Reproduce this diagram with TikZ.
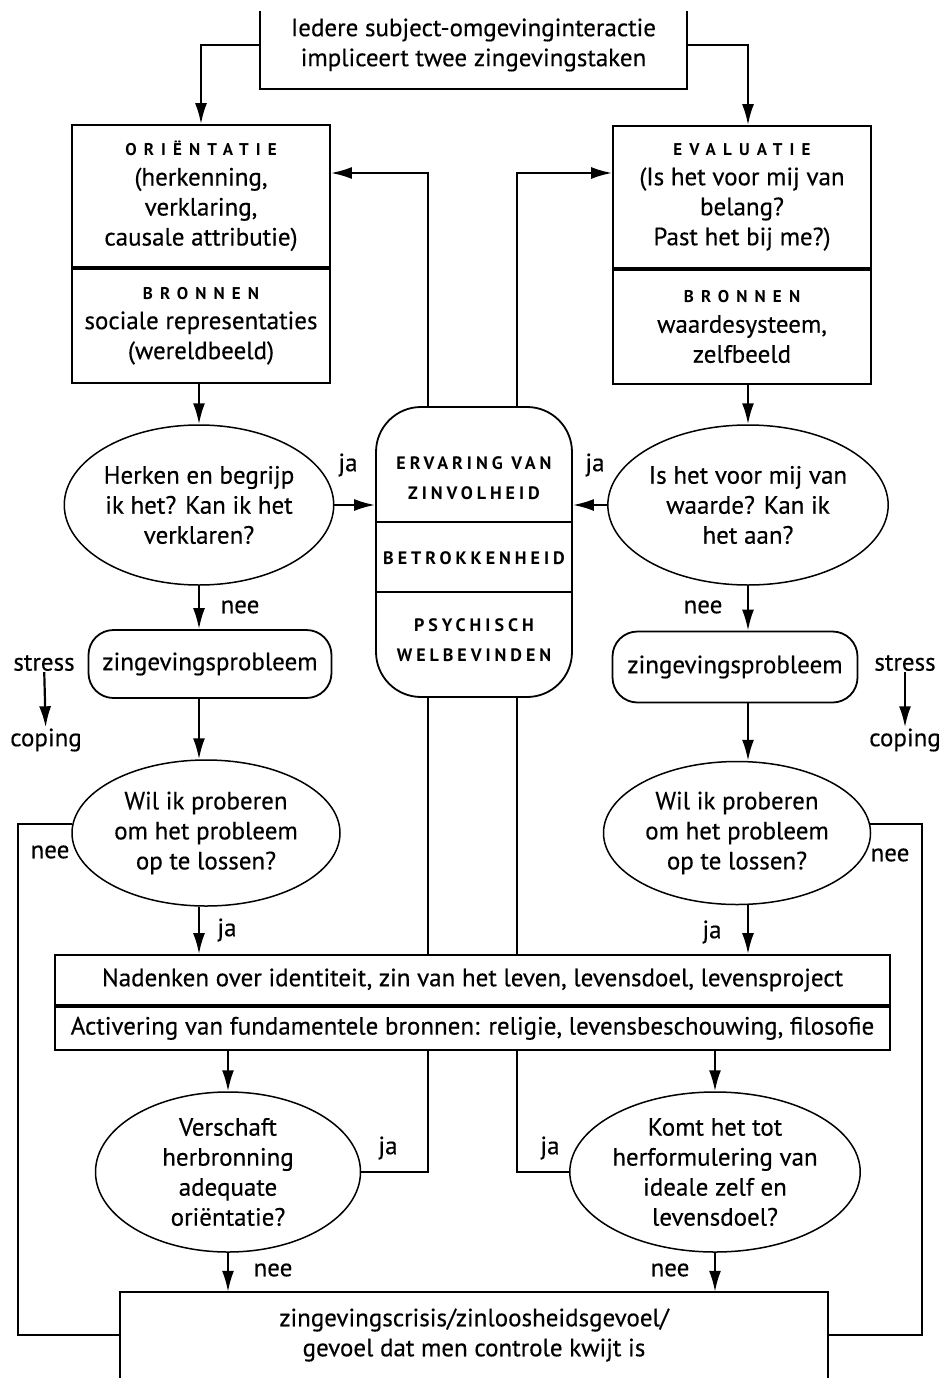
\documentclass[tikz,border=0pt]{standalone}
\usepackage{fontspec}
\setmainfont{PT Sans}[FakeBold=0.4]
\newfontfamily\spacedcaps[LetterSpace=42]{PT Sans}
\newfontfamily\tightcaps[LetterSpace=22]{PT Sans}
\usetikzlibrary{arrows.meta,shapes.geometric,positioning}
\newcommand{\kop}[1]{{\fontsize{17}{19}\spacedcaps\bfseries #1}}
\newcommand{\midkop}[1]{{\fontsize{18}{20}\tightcaps\bfseries #1}}

\begin{document}
\begin{tikzpicture}[x=1pt,y=-1pt,
    txt/.style={font=\fontsize{25}{30}\selectfont, align=center},
    box/.style={txt, draw, line width=1.8pt, inner sep=0pt},
    vraag/.style={txt, ellipse, draw, line width=1.5pt, inner sep=0pt},
    rand/.style={line width=1.8pt},
    lijn/.style={line width=2.2pt},
    pijl/.style={line width=2.2pt, -{Latex[length=21pt,width=12pt]}},
    lbl/.style={font=\fontsize{25}{28}\selectfont, inner sep=1pt}]
  \useasboundingbox (0,0) rectangle (945,1378);

  % columns for the loops
  \coordinate (lx) at (428,173);
  \coordinate (rx) at (517,173);
  \coordinate (lusL) at (18,0);
  \coordinate (lusR) at (922,0);

  % top
  \node[txt, minimum width=427pt, minimum height=88pt, inner sep=0pt] (taak) at (473.5,45)
    {Iedere subject-omgevinginteractie\\impliceert twee zingevingstaken};
  \draw[rand] ([yshift=-10pt]taak.north west) -- (taak.south west) -- (taak.south east) -- ([yshift=-10pt]taak.north east);

  % two tasks
  \node[box, minimum width=258pt, minimum height=142pt] (orient) at (201,196)
    {\kop{ORIËNTATIE}\\(herkenning,\\verklaring,\\causale attributie)};
  \node[box, minimum width=258pt, minimum height=114pt, below=0pt of orient] (bronL)
    {\kop{BRONNEN}\\sociale representaties\\(wereldbeeld)};
  \node[box, minimum width=258pt, minimum height=142pt] (eval) at (742,197)
    {\kop{EVALUATIE}\\(Is het voor mij van\\belang?\\Past het bij me?)};
  \node[box, minimum width=258pt, minimum height=114pt, below=0pt of eval] (bronR)
    {\kop{BRONNEN}\\waardesysteem,\\zelfbeeld};

  % centre
  \node[draw, rand, rounded corners=45pt, minimum width=196pt, minimum height=290pt] (zin) at (474,552) {};
  \draw[rand] (376,522) -- (572,522);
  \draw[rand] (376,592) -- (572,592);
  \node[txt] (ervaring) at (474,478) {\midkop{ERVARING VAN}\\\midkop{ZINVOLHEID}};
  \node[txt] (betrok) at (474,558) {\midkop{BETROKKENHEID}};
  \node[txt] (welbev) at (474,640) {\midkop{PSYCHISCH}\\\midkop{WELBEVINDEN}};

  % first questions
  \node[vraag, minimum width=266pt, minimum height=160pt] (herken) at (199,505)
    {Herken en begrijp\\ik het? Kan ik het\\verklaren?};
  \node[vraag, minimum width=270pt, minimum height=160pt] (waarde) at (748,505)
    {Is het voor mij van\\waarde? Kan ik\\het aan?};
  \node[box, rounded corners=25pt, minimum width=243pt, minimum height=68pt] (zingL) at (210,664) {zingevingsprobleem};
  \node[box, rounded corners=25pt, minimum width=245pt, minimum height=71pt] (zingR) at (735,667) {zingevingsprobleem};
  \node[lbl] (stressL) at (44,663) {stress};
  \node[lbl] (copingL) at (46,740) {coping};
  \node[lbl] (stressR) at (905,663) {stress};
  \node[lbl] (copingR) at (905,740) {coping};
  \node[vraag, minimum width=268pt, minimum height=146pt] (wilL) at (206,833)
    {Wil ik proberen\\om het probleem\\op te lossen?};
  \node[vraag, minimum width=267pt, minimum height=143pt] (wilR) at (737,833)
    {Wil ik proberen\\om het probleem\\op te lossen?};

  % reflection
  \node[box, minimum width=835pt, minimum height=50pt] (naden) at (472.5,980)
    {Nadenken over identiteit, zin van het leven, levensdoel, levensproject};
  \node[box, minimum width=835pt, minimum height=43pt, below=0pt of naden] (activ)
    {Activering van fundamentele bronnen: religie, levensbeschouwing, filosofie};
  \node[vraag, minimum width=265pt, minimum height=160pt] (versch) at (228,1172)
    {Verschaft\\herbronning\\adequate\\oriëntatie?};
  \node[vraag, minimum width=266pt, minimum height=160pt] (komt) at (715,1172)
    {Komt het tot\\herformulering van\\ideale zelf en\\levensdoel?};
  \node[txt, minimum width=708pt, minimum height=86pt, inner sep=0pt] (crisis) at (474,1335)
    {zingevingscrisis/zinloosheidsgevoel/\\gevoel dat men controle kwijt is};
  \draw[rand] (crisis.south west) -- (crisis.north west) -- (crisis.north east) -- (crisis.south east);

  % labels
  \node[lbl] (jaA) at (348,465) {ja};
  \node[lbl] (jaB) at (595,465) {ja};
  \node[lbl] (neeA) at (240,607) {nee};
  \node[lbl] (neeB) at (703,607) {nee};
  \node[lbl] (neeC) at (50,852) {nee};
  \node[lbl] (neeD) at (890,855) {nee};
  \node[lbl] (jaC) at (227,930) {ja};
  \node[lbl] (jaD) at (712,932) {ja};
  \node[lbl] (jaE) at (388,1148) {ja};
  \node[lbl] (jaF) at (550,1148) {ja};
  \node[lbl] (neeE) at (273,1270) {nee};
  \node[lbl] (neeF) at (670,1270) {nee};

  % arrows
  \draw[pijl] (taak.west) -| (orient.north);
  \draw[pijl] (taak.east) -| (eval.north -| waarde);
  \draw[pijl] (bronL.south -| herken) -- (herken.north);
  \draw[pijl] (bronR.south -| waarde) -- (waarde.north);
  \draw[pijl] (herken.east) -- (herken.east -| zin.west);
  \draw[pijl] (waarde.west) -- (waarde.west -| zin.east);
  \draw[pijl] (herken.south) -- (herken.south |- zingL.north);
  \draw[pijl] (waarde.south) -- (waarde.south |- zingR.north);
  \draw[pijl] (stressL) -- (copingL);
  \draw[pijl] (stressR) -- (copingR);
  \draw[pijl] (zingL.south -| herken) -- (wilL.north -| herken);
  \draw[pijl] (zingR.south -| waarde) -- (wilR.north -| waarde);
  \draw[pijl] (wilL.south -| herken) -- (naden.north -| herken);
  \draw[pijl] (wilR.south -| waarde) -- (naden.north -| waarde);
  \draw[pijl] (activ.south -| versch) -- (versch.north);
  \draw[pijl] (activ.south -| komt) -- (komt.north);
  \draw[pijl] (versch.south) -- (versch.south |- crisis.north);
  \draw[pijl] (komt.south) -- (komt.south |- crisis.north);

  % ja: back to the tasks
  \draw[pijl] (zin.north -| lx) -- (lx) -- (lx -| orient.east);
  \draw[pijl] (zin.north -| rx) -- (rx) -- (rx -| eval.west);
  \draw[lijn] (zin.south -| lx) -- (naden.north -| lx);
  \draw[lijn] (zin.south -| rx) -- (naden.north -| rx);
  \draw[lijn] (versch.east) -| (activ.south -| lx);
  \draw[lijn] (komt.west) -| (activ.south -| rx);

  % nee: to the crisis
  \draw[lijn] (wilL.176) -| (lusL |- crisis.west) -- (crisis.west);
  \draw[lijn] (wilR.4) -| (lusR |- crisis.east) -- (crisis.east);
\end{tikzpicture}
\end{document}
